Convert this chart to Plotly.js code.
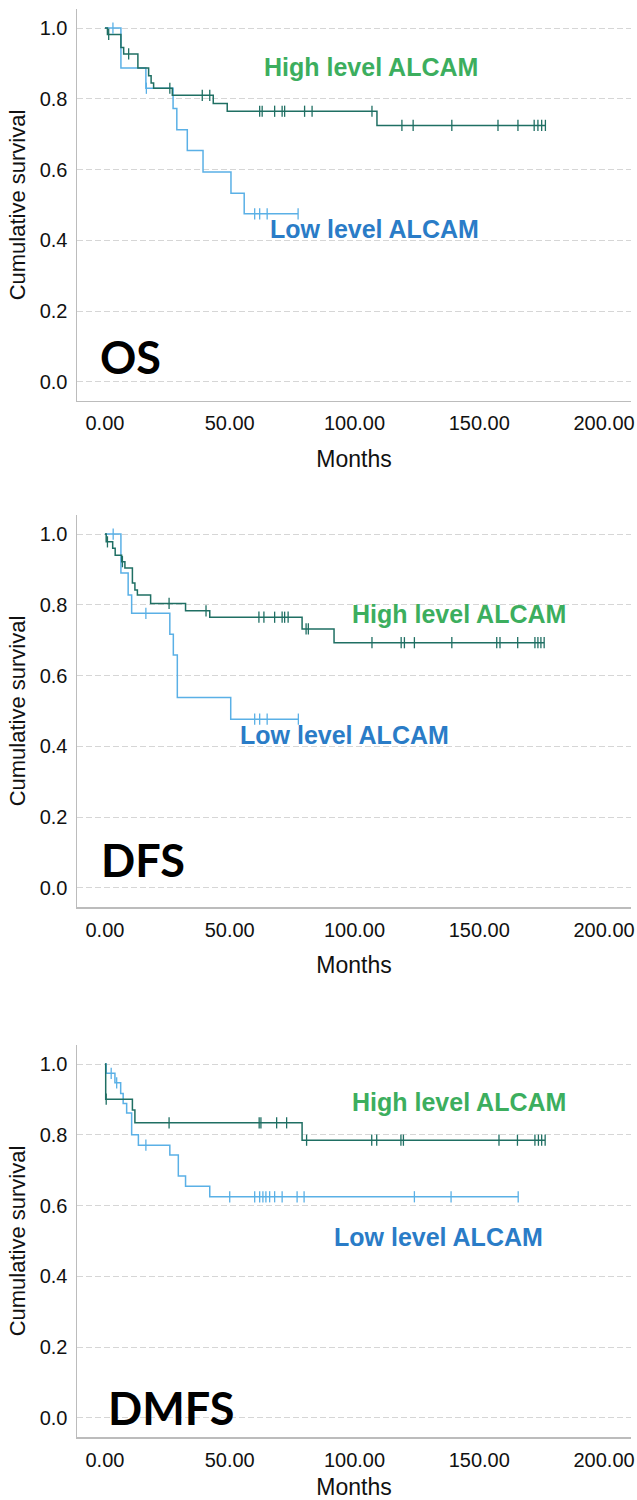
<!DOCTYPE html>
<html>
<head>
<meta charset="utf-8">
<script src="https://cdn.plot.ly/plotly-3.0.1.min.js"></script>
<style>html,body{margin:0;padding:0;background:#fff;}#chart{width:637px;height:1500px;}</style>
</head>
<body>
<div id="chart"></div>
<script>
// ---------- DATA ----------
var panelNames = ["OS", "DFS", "DMFS"];
var highLabel = "High level ALCAM";
var lowLabel = "Low level ALCAM";
var yTickVals = [0, 0.2, 0.4, 0.6, 0.8, 1.0];
var yTickText = ["0.0", "0.2", "0.4", "0.6", "0.8", "1.0"];
var xTickVals = [0, 50, 100, 150, 200];
var xTickText = ["0.00", "50.00", "100.00", "150.00", "200.00"];

// OS
var osHighT = [0, 1, 6.4, 7.5, 13.2, 17.5, 18.5, 19.5, 27, 43.4, 49, 109, 176.5];
var osHighS = [1, 0.982, 0.945, 0.927, 0.887, 0.865, 0.845, 0.83, 0.81, 0.787, 0.765, 0.725, 0.725];
var osHighCens = [1.5, 9.5, 26, 39, 42, 62, 63, 68, 71, 72, 80, 83, 107, 119, 123.5, 139, 157.5, 165.5, 172, 173.5, 175, 176.5];
var osLowT = [0, 6.4, 16.4, 27.3, 28.8, 33, 39.3, 50.5, 55.8, 77.4];
var osLowS = [1, 0.887, 0.83, 0.773, 0.713, 0.654, 0.593, 0.533, 0.475, 0.475];
var osLowCens = [3.2, 16.6, 60, 62, 65, 77.4];

// DFS
var dfsHighT = [0, 0.5, 3.1, 4.1, 6.7, 8, 11, 12, 13, 18.3, 32.3, 42, 79, 91.8, 176];
var dfsHighS = [1, 0.978, 0.96, 0.94, 0.922, 0.904, 0.862, 0.842, 0.828, 0.804, 0.783, 0.765, 0.732, 0.693, 0.693];
var dfsHighCens = [1, 7, 25.7, 40.5, 61.7, 63.7, 68, 71, 72, 73.4, 80.6, 81.5, 107, 118.7, 120, 124, 139, 157, 158.3, 165.4, 172.3, 173.5, 174.7, 176];
var dfsLowT = [0, 6.4, 9.3, 10.7, 26, 27.4, 29, 50.4, 77.5];
var dfsLowS = [1, 0.89, 0.828, 0.776, 0.717, 0.658, 0.538, 0.477, 0.477];
var dfsLowCens = [3.3, 16.4, 60, 62, 65, 77.5];

// DMFS
var dmfsHighT = [0, 0.3, 11, 12, 79, 176.4];
var dmfsHighS = [1, 0.901, 0.87, 0.834, 0.785, 0.785];
var dmfsHighCens = [0.5, 25.7, 61.8, 62.5, 68.8, 72.8, 80.8, 106.9, 108.9, 118.6, 119.6, 157.9, 165.3, 172.3, 173.7, 175, 176.4];
var dmfsLowT = [0, 0.5, 4, 6.3, 7.3, 8.7, 10.7, 13.4, 26, 29.4, 32.3, 42, 165.6];
var dmfsLowS = [1, 0.974, 0.947, 0.917, 0.889, 0.862, 0.8, 0.771, 0.743, 0.684, 0.655, 0.625, 0.625];
var dmfsLowCens = [2.5, 4.7, 16.4, 50, 60, 62, 63.3, 64.5, 66, 68, 71, 77, 79.8, 124, 138.7, 165.6];

// ---------- STYLE ----------
var highColor = "#1f6f63";
var lowColor = "#5ab0e6";
var highTextColor = "#3cae5e";
var lowTextColor = "#2a7cc7";
var baseFont = "'Liberation Sans', Arial, sans-serif";

function stepAt(t, s, x) {
  var v = s[0];
  for (var i = 0; i < t.length; i++) { if (t[i] <= x) v = s[i]; }
  return v;
}

var panels = [
  {hT: osHighT, hS: osHighS, hC: osHighCens, lT: osLowT, lS: osLowS, lC: osLowCens,
   hPos: [62.9, 0.889], lPos: [65.3, 0.431], nPos: [-2.8, 0.07]},
  {hT: dfsHighT, hS: dfsHighS, hC: dfsHighCens, lT: dfsLowT, lS: dfsLowS, lC: dfsLowCens,
   hPos: [98.2, 0.774], lPos: [53.3, 0.432], nPos: [-2.4, 0.078]},
  {hT: dmfsHighT, hS: dmfsHighS, hC: dmfsHighCens, lT: dmfsLowT, lS: dmfsLowS, lC: dmfsLowCens,
   hPos: [98.2, 0.893], lPos: [91, 0.511], nPos: [0.4, 0.027]}
];
var domains = [[0.7255, 1], [0.3711, 0.6457], [0, 0.2745]];

var traces = [];
var annotations = [];
var layout = {
  width: 637, height: 1500,
  margin: {l: 77, r: 6, t: 9, b: 63},
  paper_bgcolor: "#ffffff", plot_bgcolor: "#ffffff",
  showlegend: false,
  font: {family: baseFont, color: "#111"}
};

panels.forEach(function (p, i) {
  var sfx = i === 0 ? "" : String(i + 1);
  var xr = "x" + sfx, yr = "y" + sfx;
  traces.push({x: p.lT, y: p.lS, xaxis: xr, yaxis: yr, type: "scatter", mode: "lines",
    line: {shape: "hv", color: lowColor, width: 1.5}, hoverinfo: "skip"});
  traces.push({x: p.hT, y: p.hS, xaxis: xr, yaxis: yr, type: "scatter", mode: "lines",
    line: {shape: "hv", color: highColor, width: 1.5}, hoverinfo: "skip"});
  traces.push({x: p.lC, y: p.lC.map(function (c) { return stepAt(p.lT, p.lS, c); }),
    xaxis: xr, yaxis: yr, type: "scatter", mode: "markers",
    marker: {symbol: "line-ns-open", size: 8, color: lowColor, line: {color: lowColor, width: 1.3}}, hoverinfo: "skip"});
  traces.push({x: p.hC, y: p.hC.map(function (c) { return stepAt(p.hT, p.hS, c); }),
    xaxis: xr, yaxis: yr, type: "scatter", mode: "markers",
    marker: {symbol: "line-ns-open", size: 8, color: highColor, line: {color: highColor, width: 1.3}}, hoverinfo: "skip"});

  layout["xaxis" + sfx] = {
    anchor: yr, domain: [0, 1], range: [-11.2, 210.8],
    tickvals: xTickVals, ticktext: xTickText,
    ticks: "outside", ticklen: 4, tickcolor: "rgba(0,0,0,0)",
    tickfont: {family: baseFont, size: 20, color: "#111"},
    showgrid: false, zeroline: false,
    showline: true, linecolor: "#bcbcbc", linewidth: 1.5,
    title: {text: "Months", font: {family: baseFont, size: 23, color: "#111"}, standoff: 17}
  };
  layout["yaxis" + sfx] = {
    anchor: xr, domain: domains[i], range: [-0.054, 1.054],
    tickvals: yTickVals, ticktext: yTickText,
    ticks: "outside", ticklen: 4, tickcolor: "rgba(0,0,0,0)",
    tickfont: {family: baseFont, size: 20, color: "#111"},
    showgrid: true, gridcolor: "#d6d6d6", gridwidth: 1, griddash: "6px,3px",
    zeroline: false,
    showline: true, linecolor: "#bcbcbc", linewidth: 1.5,
    title: {text: "Cumulative survival", font: {family: baseFont, size: 22, color: "#111"}, standoff: 8}
  };

  annotations.push({xref: xr, yref: yr, x: p.hPos[0], y: p.hPos[1], xanchor: "left", yanchor: "middle",
    text: "<b>" + highLabel + "</b>", showarrow: false,
    font: {family: baseFont, size: 25, color: highTextColor}});
  annotations.push({xref: xr, yref: yr, x: p.lPos[0], y: p.lPos[1], xanchor: "left", yanchor: "middle",
    text: "<b>" + lowLabel + "</b>", showarrow: false,
    font: {family: baseFont, size: 25, color: lowTextColor}});
  annotations.push({xref: xr, yref: yr, x: p.nPos[0], y: p.nPos[1], xanchor: "left", yanchor: "middle",
    text: "<b>" + panelNames[i] + "</b>", showarrow: false,
    font: {family: "Lato, sans-serif", size: 45, color: "#000"}});
});
layout.annotations = annotations;

Plotly.newPlot("chart", traces, layout, {staticPlot: true, displayModeBar: false});
</script>
</body>
</html>
